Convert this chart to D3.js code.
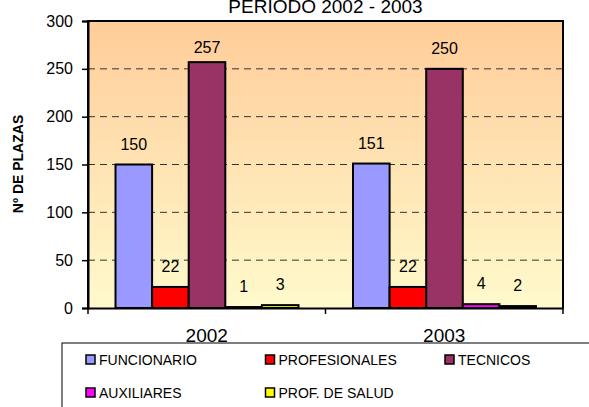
<!DOCTYPE html>
<html>
<head>
<meta charset="utf-8">
<script src="https://cdn.jsdelivr.net/npm/d3@7"></script>
<style>
  body { margin: 0; background: #fff; }
  text { font-family: Arial, "Liberation Sans", sans-serif; fill: #000; }
</style>
</head>
<body>
<div class="graph"></div>
<script>
// chart data
var years = ["2002", "2003"];
var series = ["FUNCIONARIO", "PROFESIONALES", "TECNICOS", "AUXILIARES", "PROF. DE SALUD"];
var colors = ["#9999FF", "#FF0000", "#993366", "#FF00FF", "#FFFF00"];
var values2002 = [150, 22, 257, 1, 3];
var values2003 = [151, 22, 250, 4, 2];
var yTicks = [0, 50, 100, 150, 200, 250, 300];

var rows = [values2002, values2003];

// set the dimensions and margins of the graph
var margin = {top: 21, right: 26, bottom: 99, left: 88},
    width = 589 - margin.left - margin.right,
    height = 407 - margin.top - margin.bottom;

var svgRoot = d3.select(".graph").append("svg")
    .attr("width", 589)
    .attr("height", 407);

var defs = svgRoot.append("defs");
var grad = defs.append("linearGradient")
    .attr("id", "bg").attr("x1", 0).attr("y1", 0).attr("x2", 0).attr("y2", 1);
grad.append("stop").attr("offset", "0%").attr("stop-color", "#FFCC99");
grad.append("stop").attr("offset", "100%").attr("stop-color", "#FFFACC");

var svg = svgRoot.append("g")
    .attr("transform", "translate(" + margin.left + "," + margin.top + ")");

// set the ranges
var x0 = d3.scaleBand().domain(years).range([0, width]).padding(0);
var x1 = d3.scaleBand().domain(series).range([27.5, 210.5]).padding(0);
var y = d3.scaleLinear().domain([0, 300]).range([height, 0]);

// plot background
svg.append("rect")
    .attr("width", width)
    .attr("height", height)
    .attr("fill", "url(#bg)");

// dashed grid lines
svg.selectAll("line.grid")
    .data(yTicks.filter(function(d) { return d > 0 && d < 300; }))
    .enter().append("line")
    .attr("class", "grid")
    .attr("x1", 0).attr("x2", width)
    .attr("y1", function(d) { return y(d); })
    .attr("y2", function(d) { return y(d); })
    .attr("stroke", "#333")
    .attr("stroke-width", 1)
    .attr("stroke-dasharray", "7,5");

// bars
var groups = svg.selectAll("g.year")
    .data(rows)
    .enter().append("g")
    .attr("class", "year")
    .attr("transform", function(d, i) { return "translate(" + x0(years[i]) + ",0)"; });

groups.selectAll("rect")
    .data(function(d) { return d; })
    .enter().append("rect")
    .attr("x", function(d, i) { return x1(series[i]); })
    .attr("width", x1.bandwidth())
    .attr("y", function(d) { return y(d); })
    .attr("height", function(d) { return height - y(d); })
    .attr("fill", function(d, i) { return colors[i]; })
    .attr("stroke", "#000")
    .attr("stroke-width", 2);

// value labels
groups.selectAll("text")
    .data(function(d) { return d; })
    .enter().append("text")
    .attr("x", function(d, i) { return x1(series[i]) + x1.bandwidth() / 2; })
    .attr("y", function(d) { return Math.max(y(d) - 15, 32); })
    .attr("text-anchor", "middle")
    .style("font-size", "16px")
    .text(function(d) { return d; });

// plot border
svg.append("path")
    .attr("d", "M0," + height + "V0H" + width + "V" + height)
    .attr("fill", "none")
    .attr("stroke", "#000")
    .attr("stroke-width", 2);

// Add the Y Axis
var yAxis = svg.append("g")
    .call(d3.axisLeft(y).tickValues(yTicks).tickSize(6).tickPadding(9));
yAxis.select(".domain").attr("stroke-width", 2);
yAxis.selectAll("line").attr("stroke-width", 1.5);
yAxis.selectAll("text").style("font-size", "16px").attr("font-family", "Arial, 'Liberation Sans', sans-serif");

// Add the X Axis
var xAxis = svg.append("g")
    .attr("transform", "translate(0," + height + ")")
    .call(d3.axisBottom(x0).tickSize(0).tickPadding(21));
xAxis.select(".domain").attr("stroke-width", 2);
xAxis.selectAll("text").style("font-size", "19px").attr("font-family", "Arial, 'Liberation Sans', sans-serif");

// category separator ticks
svg.selectAll("line.xtick")
    .data([0, width / 2, width])
    .enter().append("line")
    .attr("class", "xtick")
    .attr("x1", function(d) { return d; })
    .attr("x2", function(d) { return d; })
    .attr("y1", height).attr("y2", height + 6)
    .attr("stroke", "#000")
    .attr("stroke-width", 1.5);

// title
svgRoot.append("text")
    .attr("x", margin.left + width / 2)
    .attr("y", 13)
    .attr("text-anchor", "middle")
    .style("font-size", "19px")
    .text("PERIODO 2002 - 2003");

// y axis title
svgRoot.append("text")
    .attr("transform", "translate(23," + (margin.top + 143) + ") rotate(-90)")
    .attr("text-anchor", "middle")
    .style("font-size", "14px")
    .style("font-weight", "bold")
    .text("Nº DE PLAZAS");

// legend
var legend = svgRoot.append("g")
    .attr("transform", "translate(62,343)");

legend.append("rect")
    .attr("width", 540)
    .attr("height", 80)
    .attr("fill", "#fff")
    .attr("stroke", "#000")
    .attr("stroke-width", 1);

var items = legend.selectAll("g.item")
    .data(series)
    .enter().append("g")
    .attr("class", "item")
    .attr("transform", function(d, i) {
      return "translate(" + (24 + (i % 3) * 179.5) + "," + (12 + Math.floor(i / 3) * 33) + ")";
    });

items.append("rect")
    .attr("width", 9)
    .attr("height", 9)
    .attr("fill", function(d, i) { return colors[i]; })
    .attr("stroke", "#000")
    .attr("stroke-width", 1.5);

items.append("text")
    .attr("x", 13)
    .attr("y", 10)
    .style("font-size", "14px")
    .text(function(d) { return d; });
</script>
</body>
</html>
